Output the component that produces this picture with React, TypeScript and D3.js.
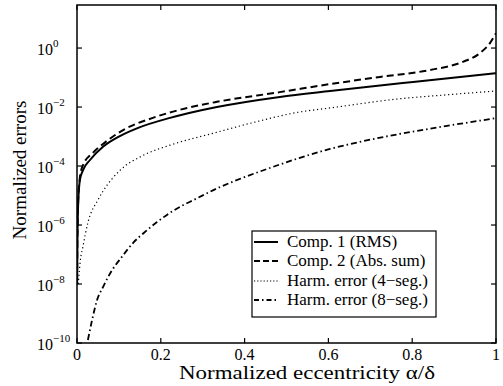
import React from "react";
import * as d3 from "d3";

const W = 503;
const H = 386;

// Comp. 1 (RMS)
const rmsX = [0.0003, 0.001, 0.003, 0.007, 0.015, 0.031, 0.062, 0.1, 0.143, 0.222, 0.294, 0.334, 0.484, 0.604, 0.802, 1.0];
const rmsY = [1e-8, 2.5e-7, 6.3e-6, 3.4e-5, 7.6e-5, 1.6e-4, 4.5e-4, 1.0e-3, 1.9e-3, 4.3e-3, 7.6e-3, 1.0e-2, 2.2e-2, 3.5e-2, 7.1e-2, 1.4e-1];

// Comp. 2 (Abs. sum)
const absX = [0.0003, 0.001, 0.003, 0.007, 0.014, 0.038, 0.062, 0.11, 0.181, 0.263, 0.334, 0.484, 0.604, 0.723, 0.842, 0.921, 0.962, 0.986, 1.0];
const absY = [1.3e-8, 3.2e-7, 7.9e-6, 4.2e-5, 1.05e-4, 2.8e-4, 5.6e-4, 1.66e-3, 4.3e-3, 9.3e-3, 1.5e-2, 3.2e-2, 6.0e-2, 1.05e-1, 1.8e-1, 3.4e-1, 6.8e-1, 1.5, 3.2];

// Harm. error (4-seg.)
const h4X = [0.003, 0.008, 0.014, 0.026, 0.05, 0.062, 0.103, 0.158, 0.222, 0.334, 0.413, 0.532, 0.604, 0.763, 0.883, 1.0];
const h4Y = [1e-8, 6.3e-8, 1.8e-7, 1.2e-6, 7.1e-6, 1.4e-5, 7.2e-5, 2.3e-4, 5.1e-4, 1.4e-3, 2.8e-3, 6.8e-3, 9.3e-3, 1.86e-2, 2.6e-2, 3.5e-2];

// Harm. error (8-seg.)
const h8X = [0.026, 0.036, 0.048, 0.062, 0.084, 0.107, 0.134, 0.162, 0.191, 0.222, 0.253, 0.277, 0.334, 0.372, 0.453, 0.532, 0.604, 0.675, 0.763, 0.883, 1.0];
const h8Y = [1.26e-10, 6e-10, 2.9e-9, 7.9e-9, 3e-8, 8.3e-8, 2.5e-7, 5.8e-7, 1.26e-6, 2.6e-6, 4.7e-6, 6.9e-6, 1.74e-5, 2.95e-5, 7.9e-5, 1.9e-4, 3.8e-4, 6.6e-4, 1.17e-3, 2.3e-3, 4.2e-3];

const xTicks = [0, 0.2, 0.4, 0.6, 0.8, 1];
const xTickLabels = ["0", "0.2", "0.4", "0.6", "0.8", "1"];
const yTicks = [1, 1e-2, 1e-4, 1e-6, 1e-8, 1e-10];
const yTickExps = ["0", "\u22122", "\u22124", "\u22126", "\u22128", "\u221210"];

const legendLabels = ["Comp. 1 (RMS)", "Comp. 2 (Abs. sum)", "Harm. error (4\u2212seg.)", "Harm. error (8\u2212seg.)"];

const xLabel = "Normalized eccentricity \u03b1/\u03b4";
const yLabel = "Normalized errors";

const FONT = '"Liberation Serif", "Times New Roman", Times, "DejaVu Serif", serif';

export default function App() {
  const left = 77, right = 496, top = 5, bottom = 343;
  const x = d3.scaleLinear().domain([0, 1]).range([left, right]);
  const y = d3.scaleLog().domain([1e-10, 28.8]).range([bottom, top]);

  const styles = [
    { w: 2, dash: "none" },
    { w: 2, dash: "7,4" },
    { w: 1.2, dash: "1.2,2.8" },
    { w: 1.8, dash: "6,3,1.5,3" },
  ];
  const legendDash = ["none", "6,3", "1.2,2", "5,3,1.5,3"];
  const series = [
    [rmsX, rmsY],
    [absX, absY],
    [h4X, h4Y],
    [h8X, h8Y],
  ];
  const line = d3
    .line<[number, number]>()
    .x((d) => x(d[0]))
    .y((d) => y(d[1]))
    .curve(d3.curveMonotoneX);

  const lgX = 252, lgY = 231, lgW = 184, lgH = 86;
  const rowBase = [247, 266, 286, 305];
  const ts = { fontFamily: FONT };

  return (
    <svg width={W} height={H} style={{ position: "absolute", left: 0, top: 0, background: "#fff", fontFamily: FONT }}>
      <rect x={0} y={0} width={W} height={H} fill="#fff" />
      <defs>
        <clipPath id="plot">
          <rect x={left} y={top} width={right - left} height={bottom - top} />
        </clipPath>
      </defs>
      <g clipPath="url(#plot)">
        {series.map(([xs, ys], i) => (
          <path
            key={i}
            d={line(xs.map((v, k) => [v, ys[k]] as [number, number])) || ""}
            fill="none"
            stroke="#000"
            strokeWidth={styles[i].w}
            strokeDasharray={styles[i].dash}
          />
        ))}
      </g>
      <rect x={left} y={top} width={right - left} height={bottom - top} fill="none" stroke="#000" strokeWidth={1.5} />
      {xTicks.map((t, i) => (
        <g key={"xt" + i}>
          <line x1={x(t)} x2={x(t)} y1={bottom} y2={bottom - 5} stroke="#000" strokeWidth={1.2} />
          <line x1={x(t)} x2={x(t)} y1={top} y2={top + 5} stroke="#000" strokeWidth={1.2} />
          <text x={x(t)} y={360} textAnchor="middle" fontSize={16} style={ts}>
            {xTickLabels[i]}
          </text>
        </g>
      ))}
      {yTicks.map((t, i) => (
        <g key={"yt" + i}>
          <line x1={left} x2={left + 5} y1={y(t)} y2={y(t)} stroke="#000" strokeWidth={1.2} />
          <line x1={right} x2={right - 5} y1={y(t)} y2={y(t)} stroke="#000" strokeWidth={1.2} />
          <text x={37} y={y(t) + 7} fontSize={16} style={ts}>
            10
            <tspan fontSize={11} dy={-8}>
              {yTickExps[i]}
            </tspan>
          </text>
        </g>
      ))}
      <text x={179} y={379} fontSize={18} textLength={256} lengthAdjust="spacingAndGlyphs" style={ts}>
        {xLabel}
      </text>
      <text transform={`translate(26,${170}) rotate(-90)`} textAnchor="middle" fontSize={19} style={ts}>
        {yLabel}
      </text>
      <rect x={lgX} y={lgY} width={lgW} height={lgH} fill="#fff" stroke="#000" strokeWidth={1.2} />
      {legendLabels.map((lab, i) => (
        <g key={"lg" + i}>
          <line
            x1={254}
            x2={278}
            y1={rowBase[i] - 5}
            y2={rowBase[i] - 5}
            stroke="#000"
            strokeWidth={styles[i].w}
            strokeDasharray={legendDash[i]}
          />
          <text x={287} y={rowBase[i]} fontSize={17} style={ts}>
            {lab}
          </text>
        </g>
      ))}
    </svg>
  );
}
